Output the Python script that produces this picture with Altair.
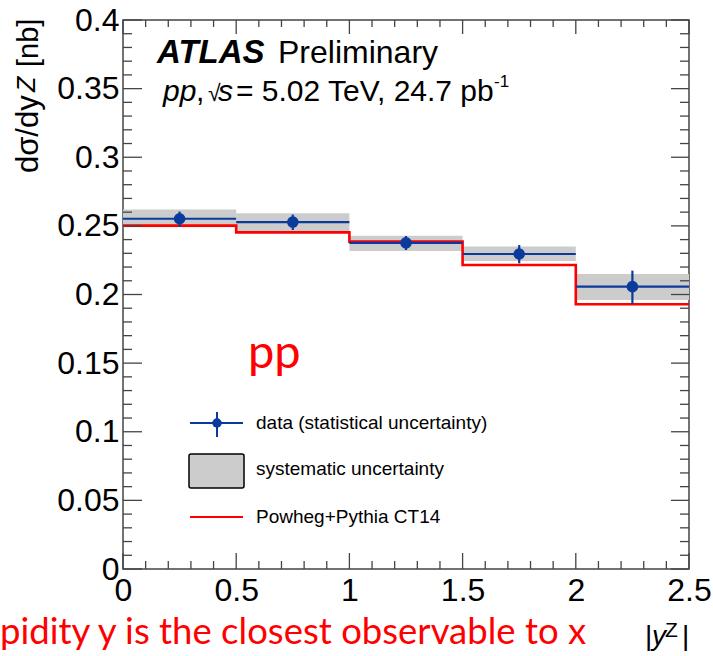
import altair as alt
import pandas as pd

# ---- data ----
bin_lo = [0.0, 0.5, 1.0, 1.5, 2.0]
bin_hi = [0.5, 1.0, 1.5, 2.0, 2.5]
bin_center = [0.25, 0.75, 1.25, 1.75, 2.25]
data_val = [0.2552, 0.2528, 0.2376, 0.2295, 0.2057]
stat_lo = [0.2492, 0.2470, 0.2324, 0.2227, 0.1931]
stat_hi = [0.2604, 0.2582, 0.2426, 0.2360, 0.2174]
sys_lo = [0.2490, 0.2460, 0.2317, 0.2244, 0.1960]
sys_hi = [0.2620, 0.2592, 0.2428, 0.2349, 0.2149]
powheg = [0.2502, 0.2453, 0.2385, 0.2215, 0.1929]

y_major = [0, 0.05, 0.1, 0.15, 0.2, 0.25, 0.3, 0.35, 0.4]
y_minor = [0.01, 0.02, 0.03, 0.04, 0.06, 0.07, 0.08, 0.09, 0.11, 0.12, 0.13, 0.14,
           0.16, 0.17, 0.18, 0.19, 0.21, 0.22, 0.23, 0.24, 0.26, 0.27, 0.28, 0.29,
           0.31, 0.32, 0.33, 0.34, 0.36, 0.37, 0.38, 0.39]
x_major = [0, 0.5, 1, 1.5, 2, 2.5]
x_minor = [0.1, 0.2, 0.3, 0.4, 0.6, 0.7, 0.8, 0.9, 1.1, 1.2, 1.3, 1.4,
           1.6, 1.7, 1.8, 1.9, 2.1, 2.2, 2.3, 2.4]

W, H = 566, 549
BLUE = "#0a3a9c"
RED = "#ff0000"
GRAY = "#cccccc"
TICK = "#444444"
FONT = "Liberation Sans"

bins = pd.DataFrame({"lo": bin_lo, "hi": bin_hi, "c": bin_center, "v": data_val,
                     "slo": stat_lo, "shi": stat_hi, "ylo": sys_lo, "yhi": sys_hi})
step = pd.DataFrame({"x": bin_lo + [bin_hi[-1]], "p": powheg + [powheg[-1]]})

xs = alt.Scale(domain=[0, 2.5], nice=False, zero=False)
ys = alt.Scale(domain=[0, 0.4], nice=False, zero=False)
xax = alt.Axis(values=x_major, format="~g", ticks=False, domain=False, grid=False,
               labelFont=FONT, labelFontSize=32, labelColor="black", labelPadding=6,
               title="", labelFlush=False)
yax = alt.Axis(values=y_major, format="~g", ticks=False, domain=False, grid=False,
               labelFont=FONT, labelFontSize=32, labelColor="black", labelPadding=4,
               title="")

def X(f):
    return alt.X(f, scale=xs, axis=xax)

def Y(f):
    return alt.Y(f, scale=ys, axis=yax)

base = alt.Chart(bins)
band = base.mark_rect(color=GRAY).encode(x=X("lo:Q"), x2="hi:Q", y=Y("ylo:Q"), y2="yhi:Q")
red = alt.Chart(step).mark_line(color=RED, strokeWidth=2.6, interpolate="step-after").encode(
    x=X("x:Q"), y=Y("p:Q"))
hline = base.mark_rule(color=BLUE, strokeWidth=2.2).encode(x=X("lo:Q"), x2="hi:Q", y=Y("v:Q"))
vline = base.mark_rule(color=BLUE, strokeWidth=2.2).encode(x=X("c:Q"), y=Y("slo:Q"), y2="shi:Q")
pts = base.mark_point(filled=True, shape="circle", size=135, color=BLUE, opacity=1).encode(
    x=X("c:Q"), y=Y("v:Q"))

# ---- inward ticks on all four sides ----
def yticks(vals, x0, x1):
    return alt.Chart(pd.DataFrame({"t": vals})).mark_rule(color=TICK, strokeWidth=1.3).encode(
        y=Y("t:Q"), x=alt.value(x0), x2=alt.value(x1))

def xticks(vals, y0, y1):
    return alt.Chart(pd.DataFrame({"t": vals})).mark_rule(color=TICK, strokeWidth=1.3).encode(
        x=X("t:Q"), y=alt.value(y0), y2=alt.value(y1))

ticks = [
    yticks(y_major, 0, 19), yticks(y_minor, 0, 9),
    yticks(y_major, W, W - 18), yticks(y_minor, W, W - 9),
    xticks(x_major, H, H - 16), xticks(x_minor, H, H - 8),
    xticks(x_major, 0, 14), xticks(x_minor, 0, 7),
]

# ---- text helpers ----
def txt(s, x, y, size, font=FONT, color="black", weight="normal", style="normal",
        angle=0, align="left", baseline="alphabetic"):
    return alt.Chart(pd.DataFrame({"s": [s]})).mark_text(
        font=font, fontSize=size, color=color, fontWeight=weight, fontStyle=style,
        angle=angle, align=align, baseline=baseline).encode(
        text="s:N", x=alt.value(x), y=alt.value(y))

texts = [
    # y-axis title
    txt("dσ/dy", -85, 153, 31, angle=270),
    txt("Z", -88, 72, 25, style="italic", angle=270),
    txt("[nb]", -85, 47, 29, angle=270),
    # ATLAS label
    txt("ATLAS", 34, 43, 33, weight="bold", style="italic"),
    txt("Preliminary", 155, 43, 32),
    txt("pp", 40, 81, 30, style="italic"),
    txt(",", 73, 81, 30),
    txt("√", 85, 81, 23),
    txt("s", 95, 81, 30, style="italic"),
    txt("= 5.02 TeV, 24.7 pb", 113, 81, 30),
    txt("-1", 371, 67, 17),
    # x-axis title
    txt("|", 522, 625, 28),
    txt("y", 529, 625, 28, style="italic"),
    txt("Z", 542, 617, 21),
    txt("|", 559, 625, 28),
    # red annotations
    txt("pp", 125, 348, 47, font="Lato", color=RED),
    txt("pidity y is the closest observable to x", -123, 624, 36.5, font="Lato", color=RED),
    # legend texts
    txt("data (statistical uncertainty)", 133, 403, 19, baseline="middle"),
    txt("systematic uncertainty", 133, 449, 19, baseline="middle"),
    txt("Powheg+Pythia CT14", 133, 497, 19, baseline="middle"),
]

one = pd.DataFrame({"k": [0]})
leg = [
    alt.Chart(one).mark_rule(color=BLUE, strokeWidth=2).encode(
        x=alt.value(67), x2=alt.value(120), y=alt.value(403)),
    alt.Chart(one).mark_rule(color=BLUE, strokeWidth=2).encode(
        x=alt.value(94), y=alt.value(392), y2=alt.value(417)),
    alt.Chart(one).mark_point(filled=True, shape="circle", size=90, color=BLUE, opacity=1).encode(
        x=alt.value(94), y=alt.value(403)),
    alt.Chart(one).mark_rect(fill=GRAY, stroke="black", strokeWidth=1.5, cornerRadius=2).encode(
        x=alt.value(66), x2=alt.value(121), y=alt.value(434), y2=alt.value(468)),
    alt.Chart(one).mark_rule(color=RED, strokeWidth=2).encode(
        x=alt.value(67), x2=alt.value(120), y=alt.value(497)),
]

chart = alt.layer(band, red, hline, vline, pts, *ticks, *leg, *texts).properties(
    width=W, height=H, autosize="none",
    padding={"left": 123, "top": 20, "right": 24, "bottom": 87},
    background="white",
).configure_view(stroke="#444444", strokeWidth=1.5)

chart.save("out.html", embed_options={"renderer": "svg", "actions": False})
